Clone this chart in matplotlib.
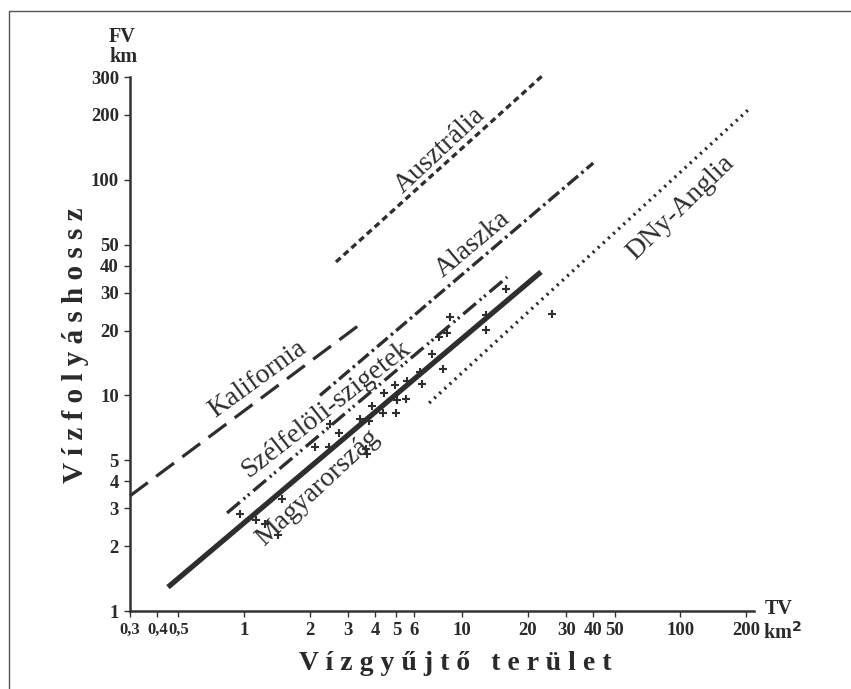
import matplotlib
matplotlib.use("Agg")
import matplotlib.pyplot as plt
from matplotlib.patches import Rectangle

plt.rcParams['font.family'] = ['Liberation Serif', 'DejaVu Serif']
plt.rcParams['lines.scale_dashes'] = False

# ---------------- data ----------------
x_ticks = [0.3, 0.4, 0.5, 1, 2, 3, 4, 5, 6, 10, 20, 30, 40, 50, 100, 200]
x_tick_labels = ["0,3", "0,4", "0,5", "1", "2", "3", "4", "5", "6", "10",
                 "20", "30", "40", "50", "100", "200"]
y_ticks = [1, 2, 3, 4, 5, 10, 20, 30, 40, 50, 100, 200, 300]
y_tick_labels = [str(v) for v in y_ticks]

# regression lines: (start area, end area), (start length, end length)
kalifornia_x = [0.3, 3.37]
kalifornia_y = [3.42, 21.2]
ausztralia_x = [2.64, 23.5]
ausztralia_y = [41.6, 306]
alaszka_x = [2.23, 39.9]
alaszka_y = [10.0, 119.6]
szelfeloli_x = [0.836, 16.1]
szelfeloli_y = [2.85, 35.4]
magyar_x = [0.448, 23.0]
magyar_y = [1.29, 37.4]
anglia_x = [7.06, 209]
anglia_y = [9.22, 215]

# measured points (Magyarország)
pts_x = [0.96, 1.135, 1.25, 1.49, 1.43, 2.12, 2.45, 2.48, 2.73, 3.40, 3.74,
         3.63, 3.66, 3.87, 4.34, 4.39, 4.98, 5.03, 5.53, 4.93, 5.59, 6.42,
         6.55, 7.28, 8.18, 7.84, 8.53, 8.81, 12.9, 12.9, 15.9, 25.9]
pts_y = [2.82, 2.64, 2.53, 3.31, 2.25, 5.76, 5.76, 7.37, 6.69, 7.77, 7.61,
         5.64, 5.35, 8.93, 8.29, 10.3, 8.29, 9.52, 9.62, 11.2, 11.7, 12.8,
         11.3, 15.6, 13.3, 18.7, 19.5, 23.1, 23.6, 20.1, 31.2, 23.9]

# ---------------- figure ----------------
W, H = 851, 689
fig = plt.figure(figsize=(W / 100, H / 100), dpi=100)

# outer frame
fig.add_artist(Rectangle((9 / W, -0.05), 1.2, (H - 11) / H + 0.05,
                         transform=fig.transFigure, fill=False,
                         edgecolor="#555555", linewidth=1.0))

ax = fig.add_axes([130 / W, 78 / H, 624 / W, 534 / H])
ax.set_xscale('log')
ax.set_yscale('log')
ax.set_xlim(0.3, 218)
ax.set_ylim(1, 300)

for s in ['top', 'right']:
    ax.spines[s].set_visible(False)
for s in ['left', 'bottom']:
    ax.spines[s].set_linewidth(1.8)
    ax.spines[s].set_color('#333333')

ax.xaxis.set_major_locator(matplotlib.ticker.FixedLocator(x_ticks))
ax.xaxis.set_minor_locator(matplotlib.ticker.NullLocator())
ax.yaxis.set_major_locator(matplotlib.ticker.FixedLocator(y_ticks))
ax.yaxis.set_minor_locator(matplotlib.ticker.NullLocator())
ax.set_xticklabels(x_tick_labels)
ax.set_yticklabels(y_tick_labels)
ax.tick_params(axis='both', direction='out', length=4, width=1.0,
               color='#333333', labelsize=13.5, labelcolor='#2a2a2a', pad=4)
for lab in ax.get_xticklabels() + ax.get_yticklabels():
    lab.set_fontweight('bold')
for lab in ax.get_xticklabels()[:3]:
    lab.set_fontsize(12)

c = '#2e2e2e'
ax.plot(kalifornia_x, kalifornia_y, color=c, lw=2.3, dashes=(16, 7.5),
        clip_on=False)
ax.plot(ausztralia_x, ausztralia_y, color=c, lw=2.4, dashes=(4.5, 3),
        clip_on=False)
ax.plot(alaszka_x, alaszka_y, color=c, lw=2.4, dashes=(10, 3, 2, 3),
        clip_on=False)
ax.plot(szelfeloli_x, szelfeloli_y, color=c, lw=2.4,
        dashes=(12, 3.5, 1.6, 2.5, 1.6, 3.5), clip_on=False)
ax.plot(magyar_x, magyar_y, color=c, lw=3.8, solid_capstyle='butt',
        clip_on=False)
ax.plot(anglia_x, anglia_y, color=c, lw=2.4, dashes=(1.6, 3.4),
        clip_on=False)
ax.plot(pts_x, pts_y, linestyle='none', marker='+', markersize=6,
        markeredgewidth=1.5, color=c, clip_on=False)

# line labels
lab_kw = dict(fontsize=20, color='#2e2e2e', ha='center', va='center',
              rotation_mode='anchor')
fig.text(258 / W, 1 - 379 / H, "Kalifornia", rotation=36, **lab_kw)
fig.text(440 / W, 1 - 150 / H, "Ausztrália", rotation=43, **lab_kw)
fig.text(473 / W, 1 - 244 / H, "Alaszka", rotation=40, **lab_kw)
fig.text(681 / W, 1 - 208 / H, "DNy-Anglia", rotation=44, **lab_kw)
fig.text(326 / W, 1 - 409 / H, "Szélfelöli-szigetek", rotation=38, **lab_kw)
fig.text(318 / W, 1 - 488 / H, "Magyarország", rotation=43, **lab_kw)

# axis titles
ax_kw = dict(fontweight='bold', color='#2a2a2a', ha='center', va='center')
fig.text(122 / W, 1 - 37 / H, "FV", fontsize=14.5, **ax_kw)
fig.text(123 / W, 1 - 57 / H, "km", fontsize=14.5, **ax_kw)
fig.text(779 / W, 1 - 609 / H, "TV", fontsize=14.5, **ax_kw)
fig.text(782 / W, 1 - 633 / H, "km$^{\\mathbf{2}}$", fontsize=14.5, **ax_kw)
fig.text(455 / W, 1 - 664 / H, "V í z g y ű j t ő   t e r ü l e t",
         fontsize=20, **ax_kw)
fig.text(76 / W, 1 - 345 / H, "V í z f o l y á s h o s s z",
         fontsize=21, rotation=90, **ax_kw)

fig.savefig("out.png", dpi=100)
